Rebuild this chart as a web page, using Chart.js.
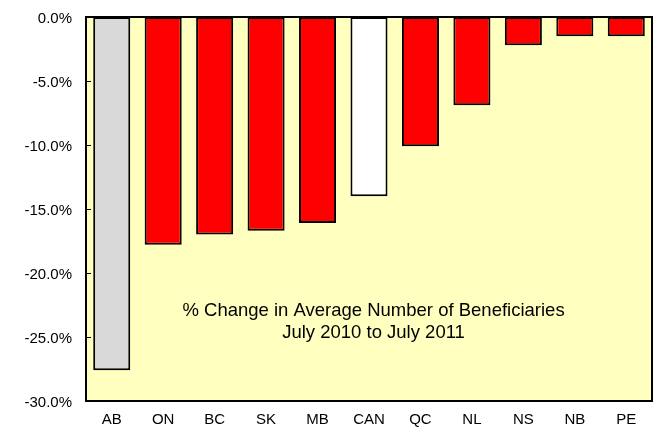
<!DOCTYPE html>
<html><head><meta charset="utf-8">
<script src="https://cdn.jsdelivr.net/npm/chart.js@4/dist/chart.umd.min.js"></script>
<style>html,body{margin:0;padding:0;background:#fff}#wrap{width:655px;height:430px}</style>
</head><body><div id="wrap"><canvas id="c" width="655" height="430"></canvas></div>
<script>
const categories = ['AB','ON','BC','SK','MB','CAN','QC','NL','NS','NB','PE'];
const changes = [-27.6,-17.8,-17.0,-16.7,-16.1,-14.0,-10.1,-6.9,-2.2,-1.5,-1.5];
const barColors = ['#d9d9d9','#ff0000','#ff0000','#ff0000','#ff0000','#ffffff','#ff0000','#ff0000','#ff0000','#ff0000','#ff0000'];
const yTicks = [0,-5,-10,-15,-20,-25,-30];
const titleLines = ['% Change in Average Number of Beneficiaries','July 2010 to July 2011'];

const FONT = 'Liberation Sans, Arial, sans-serif';
const deco = {
  id:'deco',
  beforeDatasetsDraw(chart){
    const {ctx, chartArea:a} = chart;
    ctx.save();
    ctx.fillStyle = '#ffffc0';
    ctx.fillRect(a.left,a.top,a.right-a.left,a.bottom-a.top);
    ctx.restore();
  },
  afterDatasetsDraw(chart){
    const {ctx, chartArea:a, scales:{y}} = chart;
    ctx.save();
    ctx.strokeStyle = '#000'; ctx.lineWidth = 2;
    ctx.strokeRect(a.left,a.top,a.right-a.left,a.bottom-a.top);
    ctx.lineWidth = 1;
    yTicks.forEach(v=>{
      const py = Math.round(y.getPixelForValue(v))+0.5;
      ctx.beginPath(); ctx.moveTo(a.left,py); ctx.lineTo(a.left+5,py); ctx.stroke();
    });
    ctx.fillStyle = '#000';
    ctx.font = '18.5px ' + FONT;
    ctx.textAlign = 'center'; ctx.textBaseline = 'middle';
    const cx = a.left + (a.right-a.left)*0.508;
    ctx.fillText(titleLines[0], cx, y.getPixelForValue(-22.95));
    ctx.fillText(titleLines[1], cx, y.getPixelForValue(-24.7));
    ctx.restore();
  }
};

new Chart(document.getElementById('c'), {
  type:'bar',
  data:{labels:categories, datasets:[{data:changes, backgroundColor:barColors, borderColor:'#000', borderWidth:2, borderSkipped:false, barPercentage:0.72, categoryPercentage:1}]},
  options:{
    responsive:false, animation:false, devicePixelRatio:1,
    layout:{padding:{top:17,right:3,left:0,bottom:0}},
    plugins:{legend:{display:false}, tooltip:{enabled:false}},
    scales:{
      x:{grid:{display:false, drawTicks:false}, border:{display:false},
         ticks:{color:'#000', font:{family:FONT,size:15}, padding:10},
         afterFit(s){s.height=29; s.paddingLeft=0; s.paddingRight=0;}},
      y:{min:-30,max:0, grid:{display:false, drawTicks:false}, border:{display:false},
         afterBuildTicks(s){s.ticks = yTicks.map(v=>({value:v}));},
         ticks:{color:'#000', font:{family:FONT,size:15}, padding:14, labelOffset:2, callback:v=>v.toFixed(1)+'%'},
         afterFit(s){s.width=86; s.paddingTop=0; s.paddingBottom=0;}}
    }
  },
  plugins:[deco]
});
</script></body></html>
